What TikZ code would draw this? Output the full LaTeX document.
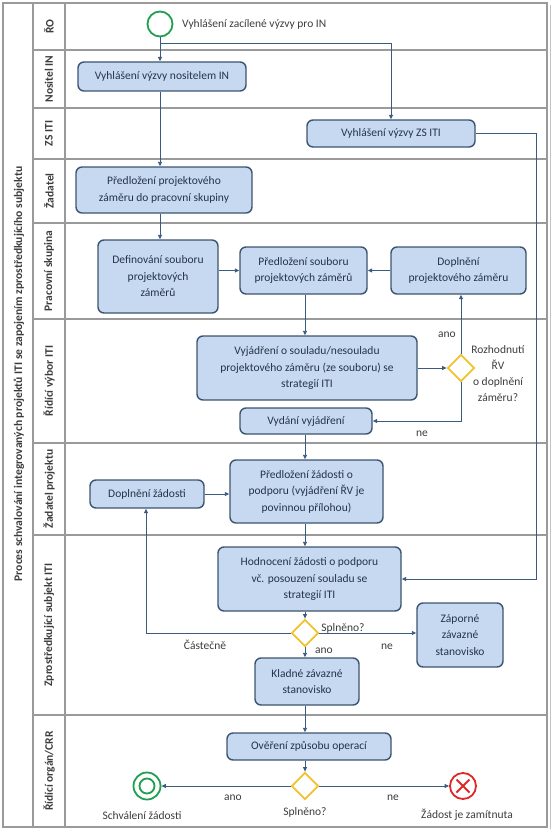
\documentclass[tikz,border=0pt]{standalone}
\usepackage{fontspec}
\setmainfont{Carlito}
\usetikzlibrary{arrows.meta,shapes.geometric,calc}
\definecolor{boxfill}{HTML}{C6D9F0}
\definecolor{boxborder}{HTML}{3D5470}
\definecolor{boxtext}{HTML}{24344A}
\definecolor{arrc}{HTML}{3A5A80}
\definecolor{lanec}{HTML}{9A9A9A}
\definecolor{gatec}{HTML}{F2C12E}
\definecolor{greenc}{HTML}{1FA050}
\definecolor{redc}{HTML}{E02828}
\definecolor{labc}{HTML}{3C3C3C}
\tikzset{
  proc/.style={draw=boxborder, fill=boxfill, rounded corners=6pt, line width=1.4pt,
    text=boxtext, align=center, inner sep=0pt,
    font=\fontsize{11.5}{16.5}\selectfont},
  gate/.style={draw=gatec, fill=white, line width=1.8pt, diamond, minimum width=27pt, minimum height=27pt, inner sep=0pt},
  arr/.style={draw=arrc, line width=0.9pt, -{Triangle[length=4.5pt,width=4pt]}},
  lbl/.style={text=labc, font=\fontsize{11.5}{16}\selectfont, align=center, inner sep=0pt},
  lane/.style={draw=lanec, line width=1.3pt},
  lanelbl/.style={rotate=90, text=labc, font=\bfseries\fontsize{11.5}{12}\selectfont, inner sep=0pt}
}
\begin{document}
\begin{tikzpicture}[x=1pt,y=-1pt]
\useasboundingbox (0,0) rectangle (553,832);
% frame and lanes
\draw[lane] (3,3) rectangle (547,827);
\draw[draw=lanec!60, line width=0.8pt] (550,5) -- (550,829);
\draw[lane] (33,3) -- (33,827);
\draw[lane] (65,3) -- (65,827);
\foreach \yy in {50,108,159,223,319,443,535,715} {\draw[lane] (33,\yy) -- (547,\yy);}
% title and lane labels
\node[lanelbl, font=\bfseries\fontsize{11.6}{12}\selectfont] (title) at (19,374) {Proces schvalování integrovaných projektů ITI se zapojením zprostředkujícího subjektu};
\node[lanelbl] (l1) at (49,26.5) {ŘO};
\node[lanelbl] (l2) at (49,79) {Nositel IN};
\node[lanelbl] (l3) at (49,133.5) {ZS ITI};
\node[lanelbl] (l4) at (49,191) {Žadatel};
\node[lanelbl] (l5) at (49,271) {Pracovní skupina};
\node[lanelbl] (l6) at (49,381) {Řídící výbor ITI};
\node[lanelbl] (l7) at (49,489) {Žadatel projektu};
\node[lanelbl] (l8) at (49,625) {Zprostředkující subjekt ITI};
\node[lanelbl] (l9) at (49,771) {Řídící orgán/CRR};
% helper coordinates
\coordinate (c1) at (160,0);
\coordinate (c2) at (305,0);
\coordinate (r1) at (536,579);
\coordinate (lft) at (146,0);
% events
\node[circle, draw=greenc, line width=1.8pt, minimum size=25pt, inner sep=0pt, fill=white] (start) at (160,24) {};
\node[lbl, anchor=west] (startlbl) at (182,24) {Vyhlášení zacílené výzvy pro IN};
% boxes
\node[proc, minimum width=168pt, minimum height=29pt] (nositel) at (162,76.5) {Vyhlášení výzvy nositelem IN};
\node[proc, minimum width=168pt, minimum height=27pt] (zsiti) at (391,133.5) {Vyhlášení výzvy ZS ITI};
\node[proc, minimum width=176pt, minimum height=46pt] (predlozeni) at (164,190) {Předložení projektového\\záměru do pracovní skupiny};
\node[proc, minimum width=120pt, minimum height=73pt] (definovani) at (158,276.5) {Definování souboru\\projektových\\záměrů};
\node[proc, minimum width=127pt, minimum height=47pt] (predsoub) at (303.5,270.5) {Předložení souboru\\projektových záměrů};
\node[proc, minimum width=135pt, minimum height=47pt] (doplzam) at (458.5,270.5) {Doplnění\\projektového záměru};
\node[proc, minimum width=220pt, minimum height=64pt] (vyjadreni) at (307,368) {Vyjádření o souladu/nesouladu\\projektového záměru (ze souboru) se\\strategií ITI};
\node[gate] (d1) at (461,368) {};
\node[lbl] (d1lbl) at (498,374) {Rozhodnutí\\ŘV\\o doplnění\\záměru?};
\node[proc, minimum width=132pt, minimum height=26pt] (vydani) at (306,421) {Vydání vyjádření};
\node[proc, minimum width=153pt, minimum height=63pt] (predzad) at (306.5,491.5) {Předložení žádosti o\\podporu (vyjádření ŘV je\\povinnou přílohou)};
\node[proc, minimum width=114pt, minimum height=28pt] (doplzad) at (147,494) {Doplnění žádosti};
\node[proc, minimum width=183pt, minimum height=64pt] (hodnoceni) at (309.5,579) {Hodnocení žádosti o podporu\\vč. posouzení souladu se\\strategií ITI};
\node[gate] (d2) at (305,633) {};
\node[proc, minimum width=86pt, minimum height=64pt] (zaporne) at (460,635) {Záporné\\závazné\\stanovisko};
\node[proc, minimum width=104pt, minimum height=47pt] (kladne) at (307,681.5) {Kladné závazné\\stanovisko};
\node[proc, minimum width=164pt, minimum height=27pt] (overeni) at (309,746.5) {Ověření způsobu operací};
\node[gate] (d3) at (305,786) {};
\node[circle, draw=greenc, line width=1.8pt, minimum size=27pt, inner sep=0pt, fill=white] (endok) at (147,786) {};
\node[circle, draw=greenc, line width=1.8pt, minimum size=15pt, inner sep=0pt] (endokin) at (147,786) {};
\node[circle, draw=redc, line width=1.8pt, minimum size=26pt, inner sep=0pt, fill=white] (endno) at (463,786) {};
\draw[draw=redc, line width=1.8pt] ($(endno.center)+(-6.5,-6.5)$) -- ($(endno.center)+(6.5,6.5)$)
  ($(endno.center)+(-6.5,6.5)$) -- ($(endno.center)+(6.5,-6.5)$);
% labels
\node[lbl] (ano1) at (447,335) {ano};
\node[lbl] (ne1) at (422,434) {ne};
\node[lbl] (cast) at (205,645) {Částečně};
\node[lbl] (spl1) at (343,628) {Splněno?};
\node[lbl] (ne2) at (387,647) {ne};
\node[lbl] (ano2) at (324,651) {ano};
\node[lbl] (ano3) at (233,798) {ano};
\node[lbl] (ne3) at (393,798) {ne};
\node[lbl] (spl2) at (305,812) {Splněno?};
\node[lbl] (okl) at (142,816) {Schválení žádosti};
\node[lbl] (nol) at (467,815) {Žádost je zamítnuta};
% connectors
\draw[arr] (start.south) -- (nositel.north -| start);
\draw[arr] (start.south) -- ++(0,6) -| (zsiti.north);
\draw[arr] (nositel.south -| c1) -- (predlozeni.north -| c1);
\draw[arr] (predlozeni.south -| c1) -- (definovani.north -| c1);
\draw[arr] (definovani.east |- predsoub.west) -- (predsoub.west);
\draw[arr] (doplzam.west) -- (predsoub.east);
\draw[arr] (predsoub.south -| c2) -- (vyjadreni.north -| c2);
\draw[arr] (vyjadreni.east) -- (d1.west);
\draw[arr] (d1.north) -- (doplzam.south -| d1);
\draw[arr] (d1.south) |- (vydani.east);
\draw[arr] (vydani.south -| c2) -- (predzad.north -| c2);
\draw[arr] (doplzad.east) -- (predzad.west |- doplzad.east);
\draw[arr] (predzad.south -| c2) -- (hodnoceni.north -| c2);
\draw[arr] (zsiti.east) -| (r1) -- (hodnoceni.east);
\draw[arr] (hodnoceni.south -| c2) -- (d2.north);
\draw[arr] (d2.west) -| (doplzad.south -| lft);
\draw[arr] (d2.east) -- (zaporne.west |- d2.east);
\draw[arr] (d2.south) -- (kladne.north -| d2);
\draw[arr] (kladne.south -| c2) -- (overeni.north -| c2);
\draw[arr] (overeni.south -| c2) -- (d3.north);
\draw[arr] (d3.west) -- (endok.east);
\draw[arr] (d3.east) -- (endno.west);
\end{tikzpicture}
\end{document}
